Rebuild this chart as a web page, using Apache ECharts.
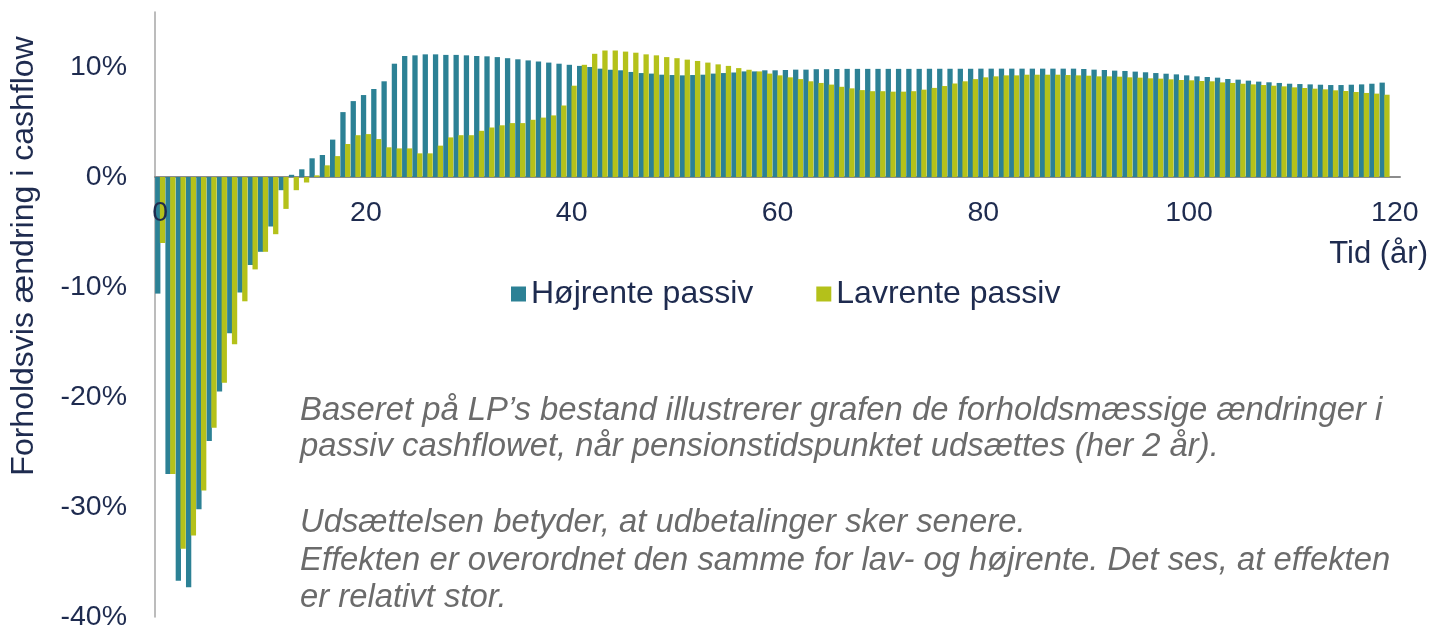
<!DOCTYPE html>
<html>
<head>
<meta charset="utf-8">
<script src="https://cdn.jsdelivr.net/npm/echarts@6/dist/echarts.min.js"></script>
<style>
html,body{margin:0;padding:0;background:#fff;}
#chart{width:1441px;height:632px;}
</style>
</head>
<body>
<div id="chart"></div>
<script>
// Categories: years 0..120
const years = [0,1,2,3,4,5,6,7,8,9,10,11,12,13,14,15,16,17,18,19,20,21,22,23,24,25,26,27,28,29,30,31,32,33,34,35,36,37,38,39,40,41,42,43,44,45,46,47,48,49,50,51,52,53,54,55,56,57,58,59,60,61,62,63,64,65,66,67,68,69,70,71,72,73,74,75,76,77,78,79,80,81,82,83,84,85,86,87,88,89,90,91,92,93,94,95,96,97,98,99,100,101,102,103,104,105,106,107,108,109,110,111,112,113,114,115,116,117,118,119,120];

// Højrente passiv (% change)
const hojrente = [-10.6,-27.0,-36.7,-37.3,-30.2,-24.0,-19.5,-14.2,-10.5,-8.0,
  -6.8,-4.5,-1.2,0.2,0.7,1.7,2.0,3.4,5.9,6.9,
  7.45,8.0,8.7,10.3,11.0,11.06,11.15,11.15,11.1,11.1,
  11.06,11.0,10.97,10.9,10.8,10.7,10.6,10.5,10.4,10.3,
  10.2,10.1,10.0,9.85,9.75,9.7,9.55,9.45,9.4,9.3,
  9.27,9.24,9.27,9.3,9.4,9.45,9.5,9.6,9.6,9.7,
  9.7,9.73,9.76,9.76,9.8,9.8,9.82,9.83,9.83,9.83,
  9.83,9.83,9.83,9.83,9.83,9.84,9.84,9.84,9.84,9.84,
  9.85,9.85,9.85,9.85,9.85,9.85,9.85,9.85,9.85,9.85,
  9.82,9.76,9.73,9.67,9.64,9.58,9.52,9.45,9.39,9.33,
  9.24,9.15,9.09,9.03,8.91,8.85,8.76,8.67,8.61,8.55,
  8.48,8.45,8.42,8.39,8.36,8.36,8.39,8.42,8.48,8.58];

// Lavrente passiv (% change)
const lavrente = [-6.0,-27.0,-33.8,-32.6,-28.5,-22.8,-18.7,-15.2,-11.3,-8.4,
  -6.8,-5.2,-2.9,-1.2,-0.5,0.15,1.06,1.9,3.0,3.8,
  3.9,3.45,2.7,2.6,2.6,2.15,2.15,2.85,3.6,3.8,
  3.8,4.2,4.5,4.7,4.9,4.9,5.2,5.4,5.6,6.5,
  8.3,10.2,11.2,11.5,11.5,11.4,11.3,11.15,11.06,10.9,
  10.8,10.67,10.55,10.4,10.24,10.1,9.9,9.75,9.6,9.4,
  9.24,9.06,8.9,8.7,8.55,8.4,8.2,8.06,7.9,7.8,
  7.8,7.76,7.76,7.8,7.94,8.1,8.27,8.5,8.7,8.9,
  9.06,9.15,9.24,9.24,9.3,9.3,9.3,9.3,9.27,9.24,
  9.21,9.15,9.15,9.12,9.06,9.03,8.97,8.94,8.88,8.82,
  8.79,8.73,8.7,8.6,8.55,8.48,8.42,8.36,8.3,8.24,
  8.15,8.09,8.03,7.97,7.88,7.82,7.73,7.64,7.58,7.48];

const seriesNames = ['Højrente passiv', 'Lavrente passiv'];
const yTicks = [-40, -30, -20, -10, 0, 10];
const yAxisTitle = 'Forholdsvis ændring i cashflow';
const xAxisTitle = 'Tid (år)';
const noteLines = [
  'Baseret på LP’s bestand illustrerer grafen de forholdsmæssige ændringer i',
  'passiv cashflowet, når pensionstidspunktet udsættes (her 2 år).',
  'Udsættelsen betyder, at udbetalinger sker senere.',
  'Effekten er overordnet den samme for lav- og højrente. Det ses, at effekten',
  'er relativt stor.'
];

const FONT = '"Liberation Sans", Arial, sans-serif';
const NAVY = '#1E2B4F';
const noteY = [411, 447, 523, 561, 598];

const chart = echarts.init(document.getElementById('chart'), null, {renderer: 'canvas'});
chart.setOption({
  animation: false,
  backgroundColor: '#ffffff',
  grid: [
    {left: 155, right: 41, top: 12, bottom: 15, containLabel: false, outerBoundsMode: 'none'},
    // label-only grid whose bottom edge coincides with the zero line
    {left: 155, right: 41, top: 12, height: 165, containLabel: false, outerBoundsMode: 'none'}
  ],
  legend: {
    data: seriesNames,
    left: 511, top: 278, padding: 0,
    itemWidth: 15, itemHeight: 15, itemGap: 63,
    icon: 'rect',
    textStyle: {fontFamily: FONT, fontSize: 32, color: NAVY}
  },
  xAxis: [
    {
      type: 'category', gridIndex: 0,
      data: years,
      boundaryGap: true,
      axisLine: {onZero: true, lineStyle: {color: '#8C8C8C', width: 2}},
      axisTick: {show: false},
      axisLabel: {show: false},
      splitLine: {show: false}
    },
    {
      type: 'category', gridIndex: 1,
      data: years,
      boundaryGap: true,
      z: 10,
      axisLine: {show: false},
      axisTick: {show: false},
      axisLabel: {
        interval: function (i) { return i % 20 === 0; },
        margin: 22,
        fontFamily: FONT, fontSize: 28.5, color: NAVY
      },
      splitLine: {show: false}
    }
  ],
  yAxis: [
    {
      type: 'value', gridIndex: 0,
      min: -40, max: 15, interval: 10,
      axisLine: {show: true, lineStyle: {color: '#A6A6A6', width: 1.5}},
      axisTick: {show: false},
      splitLine: {show: false},
      axisLabel: {
        margin: 28,
        fontFamily: FONT, fontSize: 28.5, color: NAVY,
        formatter: function (v) { return yTicks.indexOf(v) >= 0 ? v + '%' : ''; }
      }
    },
    {
      type: 'value', gridIndex: 1, min: 0, max: 15,
      show: false
    }
  ],
  series: [
    {
      name: seriesNames[0], type: 'bar', data: hojrente,
      xAxisIndex: 0, yAxisIndex: 0,
      itemStyle: {color: '#2C8195'},
      barWidth: 5.3, barGap: '-10%'
    },
    {
      name: seriesNames[1], type: 'bar', data: lavrente,
      xAxisIndex: 0, yAxisIndex: 0,
      itemStyle: {color: '#B4C11A'},
      barWidth: 5.3, barGap: '-10%'
    }
  ],
  graphic: [
    {
      type: 'text', x: 24, y: 256, rotation: Math.PI / 2,
      style: {text: yAxisTitle, font: '32px ' + FONT, fill: NAVY, textAlign: 'center', textVerticalAlign: 'middle'}
    },
    {
      type: 'text', x: 1428, y: 254,
      style: {text: xAxisTitle, font: '31px ' + FONT, fill: NAVY, textAlign: 'right', textVerticalAlign: 'middle'}
    }
  ].concat(noteLines.map(function (t, i) {
    return {
      type: 'text', x: 300, y: noteY[i],
      style: {text: t, font: 'italic 32.8px ' + FONT, fill: '#6B6B6B', textAlign: 'left', textVerticalAlign: 'middle'}
    };
  }))
});
</script>
</body>
</html>
